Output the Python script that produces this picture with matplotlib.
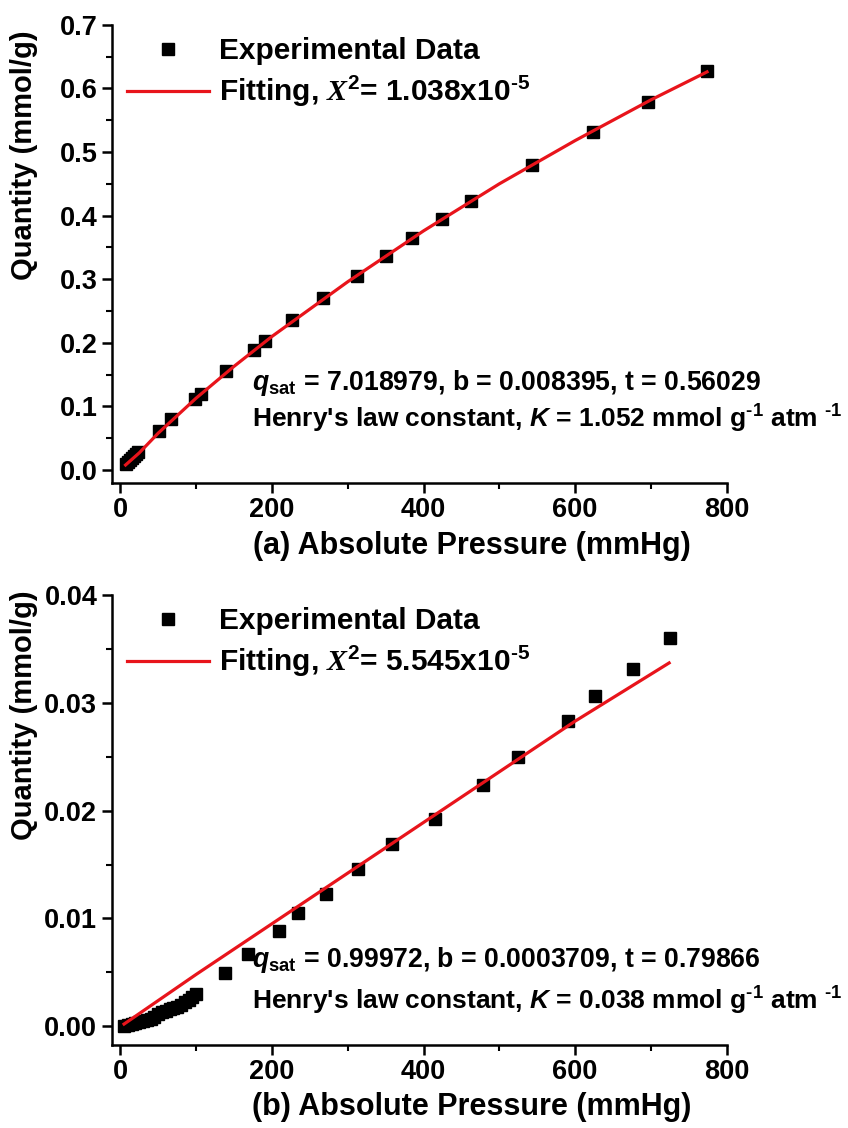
import matplotlib
matplotlib.use('agg')
from matplotlib import pyplot as plt
from matplotlib.ticker import MultipleLocator

plt.rcParams['font.family'] = ['Liberation Sans', 'DejaVu Sans']
plt.rcParams['font.weight'] = 'bold'
plt.rcParams['mathtext.fontset'] = 'custom'
plt.rcParams['mathtext.rm'] = 'Liberation Sans:bold'
plt.rcParams['mathtext.bf'] = 'Liberation Sans:bold'
plt.rcParams['mathtext.it'] = 'Liberation Sans:bold:italic'
plt.rcParams['mathtext.sf'] = 'Liberation Serif:italic'

# (a) experimental points and fitted curve
p_a = [7.5, 10, 12.5, 15, 18, 21, 23, 51, 67, 98, 106, 140, 176, 191, 227,
       267, 312, 350, 385, 424, 462, 543, 623, 696, 774]
q_a = [0.010, 0.013, 0.016, 0.019, 0.022, 0.025, 0.028, 0.062, 0.080, 0.112,
       0.119, 0.156, 0.189, 0.203, 0.236, 0.270, 0.305, 0.336, 0.365, 0.395,
       0.423, 0.480, 0.531, 0.579, 0.627]
fit_p_a = [7, 25, 50, 100, 150, 200, 300, 400, 500, 600, 700, 774]
fit_q_a = [0.008, 0.027, 0.058, 0.113, 0.163, 0.210, 0.296, 0.376, 0.450,
           0.518, 0.582, 0.626]

# (b) experimental points and fitted curve
p_b = [5, 10, 15, 20, 25, 30, 35, 40, 45, 50, 55, 60, 65, 70, 75, 80, 85, 90,
       95, 100, 138, 169, 209, 235, 272, 313, 359, 415, 478, 524, 591, 626,
       676, 725]
q_b = [0.0000, 0.0001, 0.0002, 0.0003, 0.0004, 0.0005, 0.0006, 0.0007, 0.0009,
       0.0011, 0.0013, 0.0014, 0.0016, 0.0017, 0.0018, 0.0020, 0.0022, 0.0024,
       0.0027, 0.0030, 0.0049, 0.0067, 0.0088, 0.0105, 0.0123, 0.0146, 0.0169,
       0.0192, 0.0224, 0.0250, 0.0283, 0.0306, 0.0331, 0.0360]
fit_p_b = [5, 100, 200, 300, 400, 500, 600, 724]
fit_q_b = [0.0002, 0.0048, 0.0095, 0.0142, 0.0189, 0.0236, 0.0283, 0.0337]

panels = [
    dict(p=p_a, q=q_a, fp=fit_p_a, fq=fit_q_a, ylim=(-0.02, 0.7), major=0.1,
         fmt='{:.1f}', chi='1.038', qsat='7.018979', b='0.008395',
         t='0.56029', K='1.052', xlabel='(a) Absolute Pressure (mmHg)',
         rect=[0.132, 0.572, 0.725, 0.406], label_y=0.716,
         text_y=(0.218, 0.140)),
    dict(p=p_b, q=q_b, fp=fit_p_b, fq=fit_q_b, ylim=(-0.0017, 0.04),
         major=0.01, fmt='{:.2f}', chi='5.545', qsat='0.99972',
         b='0.0003709', t='0.79866', K='0.038',
         xlabel='(b) Absolute Pressure (mmHg)',
         rect=[0.132, 0.074, 0.725, 0.3985], label_y=0.733,
         text_y=(0.188, 0.096)),
]

fig = plt.figure(figsize=(8.48, 11.28), dpi=100)

for pn in panels:
    ax = fig.add_axes(pn['rect'])
    ax.plot(pn['p'], pn['q'], 's', color='black', markersize=9,
            linestyle='none', label='Experimental Data', zorder=2)
    ax.plot(pn['fp'], pn['fq'], '-', color='#e8141b', linewidth=2.3,
            label=r'Fitting, $\mathsf{X}^{2}$= ' + pn['chi'] + r'x10$^{\text{-}5}$',
            zorder=3)
    ax.set_xlim(-11, 800)
    ax.set_ylim(*pn['ylim'])
    ax.xaxis.set_major_locator(MultipleLocator(200))
    ax.xaxis.set_minor_locator(MultipleLocator(100))
    ax.yaxis.set_major_locator(MultipleLocator(pn['major']))
    ax.yaxis.set_minor_locator(MultipleLocator(pn['major'] / 2))
    ticks = [v for v in ax.get_yticks() if pn['ylim'][0] <= v <= pn['ylim'][1] + 1e-9]
    ax.set_yticks(ticks)
    ax.set_yticklabels([pn['fmt'].format(abs(v)) for v in ticks])
    ax.spines['top'].set_visible(False)
    ax.spines['right'].set_visible(False)
    for s in ('left', 'bottom'):
        ax.spines[s].set_linewidth(1.8)
    ax.tick_params(which='major', direction='out', length=7, width=1.8,
                   labelsize=19.5)
    ax.tick_params(which='minor', direction='out', length=4.5, width=1.5)
    ax.set_xlabel(pn['xlabel'], fontsize=22, fontweight='bold')
    ax.xaxis.set_label_coords(0.585, -0.105)
    ax.set_ylabel('Quantity (mmol/g)', fontsize=21, fontweight='bold')
    ax.yaxis.set_label_coords(-0.12, pn['label_y'])
    ax.legend(loc='upper left', bbox_to_anchor=(0.02, 0.98), frameon=False,
              fontsize=21.5, handlelength=2.75, handletextpad=0.33,
              labelspacing=0.3, borderaxespad=0, borderpad=0.1)
    ax.text(0.228, pn['text_y'][0],
            r'$q_{\rm sat}$ = ' + pn['qsat'] + ', b = ' + pn['b'] + ', t = ' + pn['t'],
            transform=ax.transAxes, fontsize=19.2, va='center', clip_on=False)
    ax.text(0.228, pn['text_y'][1],
            "Henry's law constant, $K$ = " + pn['K']
            + r' mmol g$^{\text{-}1}$ atm $^{\text{-}1}$',
            transform=ax.transAxes, fontsize=19, va='center', clip_on=False)

fig.savefig('out.png', dpi=100)
plt.close(fig)
